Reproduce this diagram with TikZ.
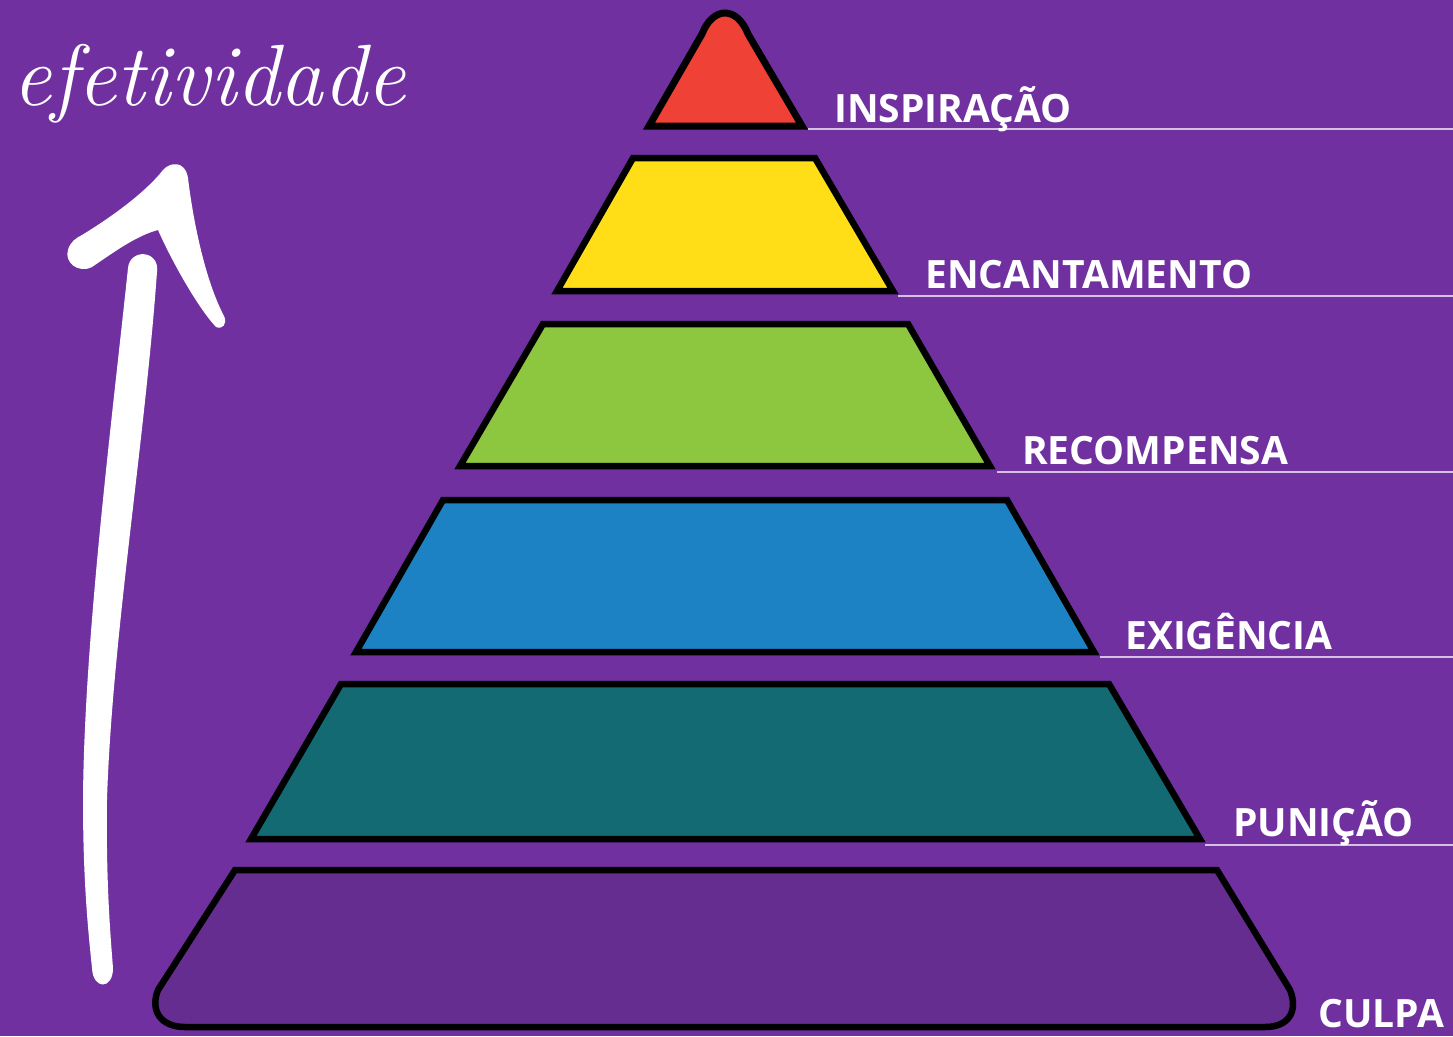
\documentclass[tikz,border=0pt]{standalone}
\usepackage{fontspec}
\usepackage{xcolor}
\usepackage{tikz}
\usetikzlibrary{positioning,calc}
\newfontfamily\labelfont{Open Sans}
\definecolor{bgpurple}{RGB}{112,48,160}
\definecolor{basepurple}{RGB}{101,45,144}
\definecolor{topred}{RGB}{239,65,54}
\definecolor{layeryellow}{RGB}{255,222,23}
\definecolor{layergreen}{RGB}{141,198,63}
\definecolor{layerblue}{RGB}{28,130,196}
\definecolor{layerteal}{RGB}{19,106,115}
\tikzset{
  layer/.style={draw=black, line width=6.5pt},
  levellabel/.style={anchor=base west, inner sep=0pt, text=white, font=\labelfont\bfseries\fontsize{39}{39}\selectfont},
  guide/.style={draw=white!70!bgpurple, line width=1.2pt}
}

\begin{document}
\begin{tikzpicture}[x=1pt,y=-1pt]
    \fill[bgpurple] (0,0) rectangle (1453,1036);
    \useasboundingbox (0,0) rectangle (1453,1036);

    % Layers
    \filldraw[layer, line width=7pt, fill=topred] (649,126) -- (702,34) .. controls (713,6) and (737,6) .. (748,34) -- (802,126) -- cycle;
    \filldraw[layer, fill=layeryellow] (633,158) -- (815,158) -- (893,291) -- (557,291) -- cycle;
    \filldraw[layer, fill=layergreen] (543,324) -- (908,324) -- (990,466) -- (460,466) -- cycle;
    \filldraw[layer, fill=layerblue] (443,500) -- (1007,500) -- (1094,652) -- (356,652) -- cycle;
    \filldraw[layer, fill=layerteal] (341,684) -- (1109,684) -- (1200,839) -- (251,839) -- cycle;
    \filldraw[layer, fill=basepurple] (235,870) -- (1217,870) -- (1290,990)
        .. controls (1298,1010) and (1290,1027) .. (1265,1027) -- (185,1027)
        .. controls (160,1027) and (150,1010) .. (158,990) -- cycle;

    % Guide lines
    \draw[guide] (808,129) -- (1453,129);
    \draw[guide] (898,296) -- (1453,296);
    \draw[guide] (997,472) -- (1453,472);
    \draw[guide] (1100,657) -- (1453,657);
    \draw[guide] (1205,845) -- (1453,845);

    % Labels
    \node[levellabel] (inspiracao) at (834,122) {INSPIRAÇÃO};
    \node[levellabel] (encantamento) at (925,288) {ENCANTAMENTO};
    \node[levellabel] (recompensa) at (1022,464) {RECOMPENSA};
    \node[levellabel] (exigencia) at (1125,649) {EXIGÊNCIA};
    \node[levellabel] (punicao) at (1233,836) {PUNIÇÃO};
    \node[levellabel] (culpa) at (1318,1027) {CULPA};

    % Arrow
    \node[anchor=base west, inner sep=0pt, text=white, font=\fontsize{87}{87}\selectfont\itshape] (efetividade) at (12,105) {efetividade};
    \fill[white] (128,268) .. controls (112,420) and (84,640) .. (83,800)
        .. controls (83,880) and (88,930) .. (92,968)
        .. controls (93,990) and (113,990) .. (113,968)
        .. controls (110,930) and (106,880) .. (107,800)
        .. controls (112,640) and (145,440) .. (157,272)
        .. controls (160,250) and (130,248) .. (128,268) -- cycle;
    \fill[white] (163,170) .. controls (170,162) and (185,160) .. (188,178)
        .. controls (193,220) and (205,280) .. (224,316)
        .. controls (228,324) and (222,330) .. (216,327)
        .. controls (200,310) and (175,268) .. (158,230)
        .. controls (135,236) and (110,255) .. (92,267)
        .. controls (78,274) and (64,262) .. (68,250)
        .. controls (70,242) and (76,238) .. (82,235)
        .. controls (110,218) and (145,193) .. (163,170) -- cycle;

\end{tikzpicture}
\end{document}
